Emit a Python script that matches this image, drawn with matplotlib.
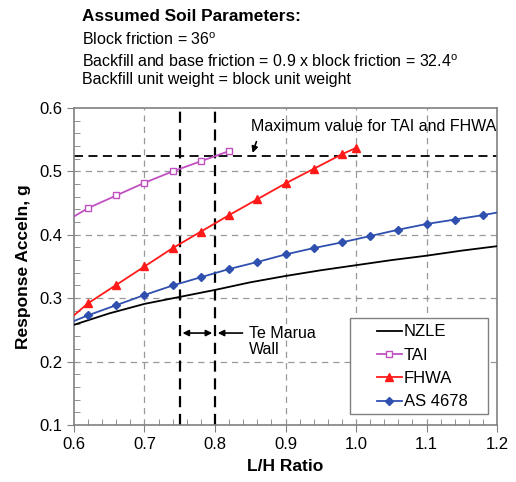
import numpy as np
import matplotlib.pyplot as plt
from matplotlib.ticker import MultipleLocator, FormatStrFormatter
from matplotlib.patches import Rectangle

plt.rcParams['font.family'] = ['Liberation Sans', 'DejaVu Sans']

# NZLE (line only)
x_nzle = [0.6, 0.65, 0.7, 0.75, 0.8, 0.85, 0.9, 0.95, 1.0, 1.05, 1.1, 1.15, 1.2]
y_nzle = [0.258, 0.276, 0.291, 0.302, 0.313, 0.325, 0.335, 0.344, 0.352, 0.360, 0.367, 0.375, 0.382]

# TAI (first point at 0.6 carries no marker)
x_tai = [0.6, 0.62, 0.66, 0.70, 0.74, 0.78, 0.82]
y_tai = [0.429, 0.442, 0.462, 0.482, 0.500, 0.516, 0.532]

# FHWA
x_fhwa = [0.6, 0.62, 0.66, 0.70, 0.74, 0.78, 0.82, 0.86, 0.90, 0.94, 0.98, 1.00]
y_fhwa = [0.273, 0.292, 0.321, 0.350, 0.379, 0.405, 0.431, 0.456, 0.481, 0.504, 0.527, 0.537]

# AS 4678
x_as = [0.6, 0.62, 0.66, 0.70, 0.74, 0.78, 0.82, 0.86, 0.90, 0.94, 0.98, 1.02, 1.06, 1.10, 1.14, 1.18, 1.2]
y_as = [0.264, 0.273, 0.289, 0.305, 0.320, 0.333, 0.346, 0.357, 0.369, 0.379, 0.388, 0.398, 0.408, 0.417, 0.424, 0.431, 0.435]

max_val = 0.525
wall_lo, wall_hi = 0.75, 0.8

fig = plt.figure(figsize=(5.16, 4.82), dpi=100)
ax = fig.add_axes([0.1434, 0.1183, 0.8198, 0.6577])

ax.set_xlim(0.6, 1.2)
ax.set_ylim(0.1, 0.6)
ax.xaxis.set_major_locator(MultipleLocator(0.1))
ax.yaxis.set_major_locator(MultipleLocator(0.1))
ax.xaxis.set_minor_locator(MultipleLocator(0.02))
ax.yaxis.set_minor_locator(MultipleLocator(0.02))
ax.xaxis.set_major_formatter(FormatStrFormatter('%.1f'))
ax.yaxis.set_major_formatter(FormatStrFormatter('%.1f'))
ax.tick_params(which='major', direction='out', length=5, color='#808080', labelsize=12)
ax.tick_params(which='minor', direction='in', length=4, color='#808080')
for s in ax.spines.values():
    s.set_color('#808080')
    s.set_linewidth(1.2)

# gray grid (0.8 is drawn black below)
for gx in [0.7, 0.9, 1.0, 1.1]:
    ax.axvline(gx, color='#999999', ls=(0, (5, 4)), lw=0.9, zorder=1)
for gy in [0.2, 0.3, 0.4, 0.5]:
    ax.axhline(gy, color='#999999', ls=(0, (5, 4)), lw=0.9, zorder=1)

ax.axvline(wall_lo, color='black', ls=(0, (5, 3)), lw=1.6, zorder=2)
ax.axvline(wall_hi, color='black', ls=(0, (5, 3)), lw=1.6, zorder=2)
ax.axhline(max_val, color='black', ls=(0, (5, 3)), lw=1.3, zorder=2)

ax.plot(x_nzle, y_nzle, color='black', lw=1.3, label='NZLE', zorder=3)
ax.plot(x_tai, y_tai, color='#c050c0', lw=1.3, marker='s', ms=5, mfc='white',
        mec='#c050c0', markevery=list(range(1, len(x_tai))), label='TAI', zorder=4)
ax.plot(x_fhwa, y_fhwa, color='#ff1a1a', lw=1.3, marker='^', ms=5.5,
        markevery=list(range(1, len(x_fhwa))), label='FHWA', zorder=4)
ax.plot(x_as, y_as, color='#3050b0', lw=1.3, marker='D', ms=4,
        markevery=list(range(1, len(x_as) - 1)), label='AS 4678', zorder=4)

ax.annotate('', xy=(0.852, max_val), xytext=(0.86, 0.551),
            arrowprops=dict(arrowstyle='-|>', color='black', lw=1.2, mutation_scale=9))
ax.text(0.851, 0.571, 'Maximum value for TAI and FHWA', fontsize=11.5, va='center')

ax.annotate('', xy=(wall_lo, 0.245), xytext=(wall_hi, 0.245),
            arrowprops=dict(arrowstyle='<|-|>', color='black', lw=1.2, mutation_scale=9))
ax.annotate('', xy=(wall_hi, 0.245), xytext=(0.843, 0.245),
            arrowprops=dict(arrowstyle='-|>', color='black', lw=1.2, mutation_scale=9))
ax.text(0.848, 0.232, 'Te Marua\nWall', fontsize=11.5, va='center', linespacing=1.05)

# legend box drawn separately (wider side padding than matplotlib allows)
ax.add_patch(Rectangle((0.652, 0.035), 0.327, 0.303, transform=ax.transAxes,
                       facecolor='white', edgecolor='#808080', lw=1.0, zorder=5))
leg = ax.legend(loc='center', bbox_to_anchor=(0.823, 0.183), fontsize=12,
                frameon=False, handlelength=1.5, labelspacing=0.5, handletextpad=0.15)
leg.set_zorder(6)

ax.set_xlabel('L/H Ratio', fontsize=12.5, fontweight='bold', labelpad=5)
ax.set_ylabel('Response Acceln, g', fontsize=12.5, fontweight='bold', labelpad=6)

fig.text(0.159, 0.965, 'Assumed Soil Parameters:', fontsize=12.4, fontweight='bold', va='center')
fig.text(0.159, 0.918, r'Block friction = 36$^\mathregular{o}$', fontsize=11.5, va='center')
fig.text(0.159, 0.872, r'Backfill and base friction = 0.9 x block friction = 32.4$^\mathregular{o}$',
         fontsize=11.5, va='center')
fig.text(0.159, 0.835, 'Backfill unit weight = block unit weight', fontsize=11.5, va='center')

plt.savefig('out.png', dpi=100)
